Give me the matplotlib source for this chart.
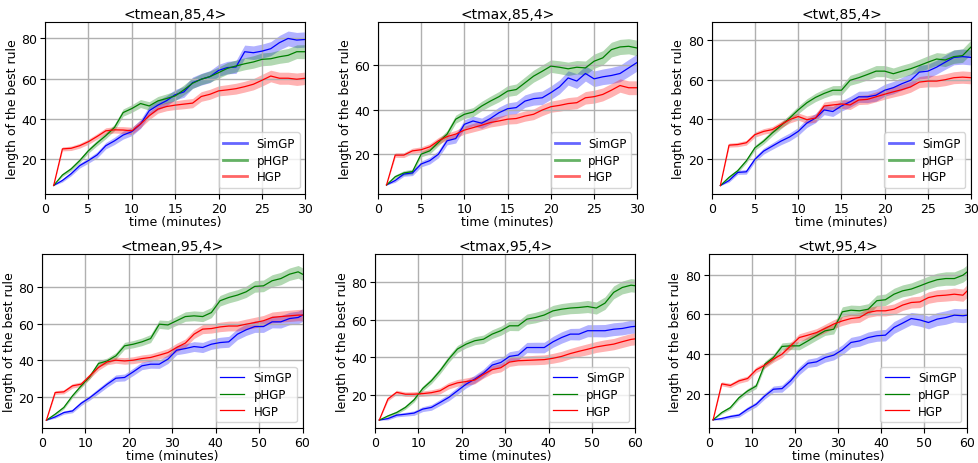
import matplotlib
matplotlib.use('Agg')
import matplotlib.pyplot as plt
from matplotlib.lines import Line2D
import numpy as np

# sampling times (minutes)
t30 = list(range(1, 31))
t60 = list(range(1, 60, 2)) + [60]

methods = ['SimGP', 'pHGP', 'HGP']
colors = ['b', 'g', 'r']
titles = ['<tmean,85,4>', '<tmax,85,4>', '<twt,85,4>',
          '<tmean,95,4>', '<tmax,95,4>', '<twt,95,4>']

# mean rule length per method
tmean85_sim = [6.8, 9.3, 12.6, 16.7, 19.2, 22, 26.6, 29, 31.9, 33.6, 37.4, 44, 46.8, 49, 52,
               53.4, 58, 59.7, 61, 64.1, 65.5, 65.8, 73.4, 72.9, 73.7, 74.9, 77.9, 80, 79.2, 79.5]
tmean85_phgp = [6.8, 12, 15, 19.2, 24.1, 28, 31.6, 35.7, 43.1, 45.1, 47.6, 46.4, 48.9, 50.1, 51.4,
                54.4, 57.7, 59.7, 61, 63, 65.1, 66.3, 67.4, 68.3, 69.6, 69.9, 70.9, 71.6, 73.4, 73.4]
tmean85_hgp = [6.8, 25, 25.3, 26.6, 28.6, 31.2, 34, 34.5, 34.4, 34, 37.4, 41.5, 44.8, 46.1, 46.8,
               47.3, 47.8, 51.1, 52.2, 53.9, 54.4, 55, 56, 57.2, 59.2, 61.3, 60.2, 60.2, 59.7, 60.2]

tmax85_sim = [6.3, 8.3, 11.2, 11.7, 15.7, 17.2, 20.1, 26.1, 27.1, 33.5, 35, 34, 36.1, 38.7, 40.5,
              41, 43.9, 45, 45.4, 47.7, 50.3, 54.3, 52.9, 56.3, 53.9, 54.8, 55.4, 56.3, 58.8, 61.3]
tmax85_phgp = [6.3, 10, 11.7, 12.3, 20.1, 21.6, 25.4, 29.1, 35.8, 38, 39, 41.7, 43.9, 45.9, 48.4,
               49.1, 52.1, 55.1, 57.3, 59.6, 59.1, 58.4, 59.1, 58.8, 61.8, 63.3, 67, 68.2, 68.5, 67.7]
tmax85_hgp = [6.3, 19.7, 19.7, 21.6, 22.1, 23.4, 26.1, 28, 29.1, 30.9, 32, 33.1, 34.3, 35, 35.8,
              36.1, 37.2, 38, 39.9, 41.4, 42, 42.8, 43.2, 45.4, 45.9, 46.9, 48.8, 50.9, 49.9, 49.9]

twt85_sim = [6.8, 9.3, 13.4, 13.7, 20, 24.1, 26.6, 29.1, 31.2, 34, 38.2, 40.7, 44.8, 44, 46.8,
             48.9, 51.4, 51.4, 52.2, 54.7, 56, 58, 59.7, 63.8, 64.3, 66.3, 68.8, 71.2, 71.6, 71.2]
twt85_phgp = [6.8, 10.9, 14.2, 19.2, 25.8, 29.1, 33.2, 36.9, 40.7, 44.8, 48.4, 51.1, 53.1, 54.7, 54.7,
              59.7, 61, 62.6, 64.3, 64.3, 63, 64.3, 65.5, 67.1, 68.8, 70.4, 69.9, 71.6, 72.1, 76.5]
twt85_hgp = [6.8, 27.1, 27.4, 28.3, 32.4, 34, 34.9, 37.4, 39.9, 41.5, 39.9, 40.7, 46.8, 47.3, 47.8,
             47.3, 49.8, 50.1, 51.4, 52.7, 53.9, 55, 56.4, 58.8, 59.3, 59.3, 60, 61, 61.3, 61]

tmean95_sim = [7, 8.8, 11.2, 12.1, 16.3, 19.4, 23.1, 26.8, 30.1, 30.5, 33.6, 36.9, 37.8, 37.8, 40.6,
               45.5, 46.4, 47.5, 47, 48.8, 49.7, 50.1, 54.3, 56.7, 58.5, 58.5, 61.1, 61.1, 62.9, 63.5, 64.8]
tmean95_phgp = [7, 10.3, 14, 20.4, 25.9, 31, 38.2, 39.6, 42.4, 47.9, 48.8, 50.1, 51.9, 59.8, 59.4,
                61.7, 64, 64.4, 64, 66.2, 72.7, 74.5, 75.8, 77.6, 80.6, 80.9, 83.7, 84.9, 87.3, 88.6, 87.3]
tmean95_hgp = [7, 22.2, 22.6, 25.9, 26.8, 31.4, 36, 39.1, 40, 39.6, 40, 40.9, 41.5, 42.8, 44.2,
               47, 49.4, 54.3, 57.1, 57.4, 58.3, 58.8, 58.8, 59.8, 60.7, 61.7, 63.5, 64, 64.4, 64.8, 64.8]

tmax95_sim = [6.8, 7.6, 9.4, 9.9, 10.5, 12.6, 13.5, 16.1, 18.8, 22.3, 25.8, 28.5, 31.6, 35.9, 37.3,
              40.5, 41.2, 45.2, 45.2, 45.2, 48.2, 50.5, 52.3, 52.3, 54.1, 54.1, 54.1, 54.9, 55.3, 56.2, 56.4]
tmax95_phgp = [6.8, 9, 10.8, 13.5, 17.5, 23.5, 27.6, 32.9, 39.1, 44.4, 47, 48.8, 49.6, 52.3, 54.1,
               56.7, 56.7, 60.2, 61.1, 62.4, 64.6, 65.5, 66.1, 66.4, 66.9, 66.1, 68.7, 74.4, 77, 78.2, 77.9]
tmax95_hgp = [6.8, 18, 21.5, 20.5, 20.5, 20.8, 21.3, 22.3, 25, 26.5, 27.2, 28, 31, 33.5, 34.5,
              37.5, 38.2, 38.4, 38.6, 38.8, 39.5, 40.5, 42, 43.2, 44.3, 45.5, 46.3, 47, 48.3, 49.5, 49.8]

twt95_sim = [6.7, 7.4, 8.4, 9.1, 12.1, 14.6, 18.8, 22.2, 22.5, 26.4, 31.5, 35.3, 36, 38.2, 39.4,
             42.1, 45.8, 46.6, 48.3, 49.2, 49.5, 53.4, 55.6, 57.9, 57.2, 55.9, 57.6, 58.4, 59.6, 59.3, 59.6]
twt95_phgp = [6.7, 10.4, 12.9, 17.9, 21.3, 23.8, 34.8, 38.2, 43.8, 44.1, 44.1, 46.6, 49.2, 51.7, 52.5,
              61.3, 62.1, 61.8, 62.6, 66.9, 67.4, 70.2, 71.9, 72.8, 74.4, 76.1, 77.5, 78.1, 78.1, 79.8, 81.5]
twt95_hgp = [6.7, 24.9, 24.1, 26.4, 27.6, 32, 34.3, 37.4, 39.9, 44.1, 48.3, 49.5, 50.8, 52.9, 55.1,
             56.7, 57.9, 58.4, 61, 61.8, 61.8, 62.6, 64.7, 66, 66.3, 68.5, 69.4, 69.7, 70.2, 69.7, 71.9]

# half width of the shaded band per method
band30_sim = [0, 0.8, 1, 1.2, 1.3, 1.5, 1.6, 1.8, 2, 2, 2.2, 2.3, 2.4, 2.5, 2.6,
              2.7, 2.8, 2.9, 3, 3, 3.1, 3.2, 3.3, 3.4, 3.5, 3.5, 3.6, 3.7, 3.8, 3.8]
band30_phgp = [0, 0.8, 1, 1.1, 1.2, 1.4, 1.5, 1.6, 1.8, 1.9, 2, 2.1, 2.2, 2.3, 2.4,
               2.5, 2.6, 2.7, 2.8, 2.8, 2.9, 3, 3, 3.1, 3.2, 3.2, 3.3, 3.4, 3.4, 3.5]
band30_hgp = [0, 1, 1.1, 1.2, 1.3, 1.4, 1.5, 1.6, 1.7, 1.8, 1.9, 2, 2, 2.1, 2.2,
              2.3, 2.3, 2.4, 2.5, 2.5, 2.6, 2.7, 2.7, 2.8, 2.9, 2.9, 3, 3, 3.1, 3.1]
band60_sim = [0, 0.7, 0.9, 1, 1.2, 1.3, 1.5, 1.6, 1.8, 1.9, 2, 2.1, 2.2, 2.3, 2.4,
              2.5, 2.6, 2.7, 2.8, 2.8, 2.9, 3, 3, 3.1, 3.2, 3.2, 3.3, 3.4, 3.4, 3.5, 3.5]
band60_phgp = [0, 0.7, 0.9, 1, 1.2, 1.3, 1.5, 1.6, 1.8, 1.9, 2, 2.1, 2.2, 2.3, 2.4,
               2.5, 2.6, 2.7, 2.8, 2.8, 2.9, 3, 3, 3.1, 3.2, 3.2, 3.3, 3.4, 3.4, 3.5, 3.5]
band60_hgp = [0, 1, 1.1, 1.2, 1.3, 1.4, 1.5, 1.6, 1.7, 1.8, 1.9, 2, 2, 2.1, 2.2,
              2.3, 2.3, 2.4, 2.5, 2.5, 2.6, 2.7, 2.7, 2.8, 2.9, 2.9, 3, 3, 3.1, 3.1, 3.2]

panels = [
    (t30, [tmean85_sim, tmean85_phgp, tmean85_hgp], [band30_sim, band30_phgp, band30_hgp], (2.6, 88.1)),
    (t30, [tmax85_sim, tmax85_phgp, tmax85_hgp], [band30_sim, band30_phgp, band30_hgp], (2.3, 79.3)),
    (t30, [twt85_sim, twt85_phgp, twt85_hgp], [band30_sim, band30_phgp, band30_hgp], (2.6, 88.9)),
    (t60, [tmean95_sim, tmean95_phgp, tmean95_hgp], [band60_sim, band60_phgp, band60_hgp], (2.6, 98.3)),
    (t60, [tmax95_sim, tmax95_phgp, tmax95_hgp], [band60_sim, band60_phgp, band60_hgp], (2.5, 94.6)),
    (t60, [twt95_sim, twt95_phgp, twt95_hgp], [band60_sim, band60_phgp, band60_hgp], (2.5, 90.4)),
]

# axes boxes in figure fractions
boxes = [
    [0.046, 0.580, 0.266, 0.370], [0.386, 0.580, 0.265, 0.370], [0.727, 0.580, 0.265, 0.370],
    [0.043, 0.075, 0.266, 0.375], [0.383, 0.075, 0.266, 0.375], [0.724, 0.075, 0.264, 0.375],
]

fig = plt.figure(figsize=(9.79, 4.64), dpi=100)

for i, (t, series, bands, ylim) in enumerate(panels):
    ax = fig.add_axes(boxes[i])
    t = np.array(t)
    for name, c, y, b in zip(methods, colors, series, bands):
        y = np.array(y)
        b = np.array(b)
        ax.fill_between(t, y - b, y + b, color=c, alpha=0.3, linewidth=0)
        ax.plot(t, y, color=c, linewidth=0.9, label=name)
    # ticks first: set_yticks would widen the limits to show every tick
    ax.set_xticks(np.arange(0, t[-1] + 1, 5 if t[-1] == 30 else 10))
    ax.set_yticks([20, 40, 60, 80])
    ax.set_xlim(0, t[-1])
    ax.set_ylim(*ylim)
    ax.grid(True, color='#b0b0b0', linewidth=1.0)
    ax.tick_params(labelsize=9, length=3.5, pad=2)
    ax.set_title(titles[i], fontsize=10, pad=3)
    ax.set_xlabel('time (minutes)', fontsize=9, labelpad=0)
    ax.set_ylabel('length of the best rule', fontsize=9, labelpad=2)
    if i < 3:
        handles = [Line2D([], [], color=c, alpha=0.6, linewidth=2) for c in colors]
        ax.legend(handles, methods, loc='lower right', fontsize=8.5, labelspacing=0.3)
    else:
        ax.legend(loc='lower right', fontsize=8.5, labelspacing=0.3)

fig.savefig('out.png', dpi=100)
